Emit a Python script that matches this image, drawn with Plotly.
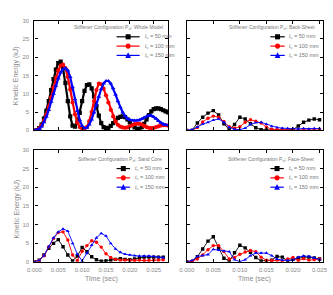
import numpy as np
import plotly.graph_objects as go

# ---------------- data ----------------
# Whole Model (dense sampling, 0.0005 s)
t_whole = np.round(np.arange(0, 0.02801, 0.0005), 4)
whole_50 = [0, 0.1, 0.6, 1.6, 3.2, 5.3, 8.0, 11.0, 14.0, 16.6, 18.4, 18.8, 17.0, 13.0, 8.0, 3.8, 1.3, 1.0, 2.2, 4.8,
            8.0, 10.8, 12.4, 12.6, 11.5, 9.3, 6.6, 4.0, 2.0, 0.9, 0.6, 0.7, 1.2, 2.0, 2.8, 3.4, 3.7, 3.8, 3.6, 3.0,
            2.2, 1.4, 0.8, 0.4, 0.4, 0.9, 1.8, 3.0, 4.2, 5.2, 5.8, 6.0, 6.0, 5.8, 5.5, 5.2, 4.9]
whole_100 = [0, 0.1, 0.5, 1.3, 2.6, 4.3, 6.5, 9.0, 11.7, 14.3, 16.4, 17.7, 18.0, 17.0, 14.6, 11.2, 7.6, 4.4, 2.1, 0.9,
             0.5, 0.5, 0.9, 2.5, 5.0, 8.0, 11.0, 12.8, 12.6, 11.4, 9.6, 7.6, 5.6, 3.8, 2.4, 1.5, 1.0, 0.8, 0.7, 0.8,
             1.1, 1.4, 1.7, 1.8, 1.8, 1.6, 1.2, 0.9, 0.7, 0.6, 0.7, 0.9, 1.1, 1.3, 1.4, 1.4, 1.3]
whole_150 = [0, 0.1, 0.4, 1.1, 2.2, 3.7, 5.6, 7.8, 10.0, 12.2, 14.2, 15.8, 16.7, 17.0, 16.4, 14.6, 11.8, 8.5, 5.3, 2.8,
             1.2, 0.6, 0.7, 1.6, 3.0, 4.9, 7.0, 9.2, 11.3, 12.8, 13.5, 13.5, 12.8, 11.5, 9.8, 8.0, 6.3, 4.9, 3.9, 3.2,
             2.9, 2.7, 2.7, 2.7, 2.8, 3.1, 3.5, 3.8, 4.0, 4.0, 3.7, 3.2, 2.6, 2.1, 1.7, 1.5, 1.4]

# Back-Sheet (0.001 s)
t_back = np.round(np.arange(0, 0.02501, 0.001), 3)
back_50 = [0, 0, 2.0, 3.6, 4.7, 5.4, 4.2, 1.8, 0.2, 1.6, 3.6, 3.1, 1.8, 0.7, 0.2, 0.1, 0.1, 0.0, 0.1, 0.1,
           0.2, 1.2, 2.2, 2.8, 3.1, 2.9]
back_100 = [0, 0, 0.8, 2.3, 3.3, 3.9, 3.6, 2.4, 1.0, 0.6, 1.0, 2.2, 2.9, 2.5, 2.0, 0.9, 0.3, 0.2, 0.1, 0.1,
            0.1, 0.1, 0.1, 0.1, 0.1, 0.1]
back_150 = [0, 0.2, 0.9, 1.7, 2.2, 2.8, 3.1, 2.2, 0.8, 0.3, 0.2, 0.6, 1.6, 2.1, 2.2, 1.7, 1.1, 0.8, 0.6, 0.5,
            0.5, 0.4, 0.5, 0.4, 0.5, 0.5]

# Sand Core (0.001 s)
t_sand = np.round(np.arange(0, 0.02701, 0.001), 3)
sand_50 = [0, 0.4, 1.8, 3.6, 4.9, 5.9, 4.0, 1.8, 0.2, 1.5, 3.8, 2.7, 1.3, 0.5, 0.1, 0.2, 0.4, 0.6, 0.8, 0.6,
           0.5, 0.7, 1.0, 1.2, 1.2, 1.2, 1.2, 1.2]
sand_100 = [0, 0.3, 1.6, 4.0, 6.2, 7.8, 8.0, 5.8, 1.8, 0.3, 2.8, 4.3, 5.6, 5.2, 3.9, 2.1, 1.1, 0.6, 0.4, 0.4,
            0.4, 0.3, 0.4, 0.3, 0.3, 0.4, 0.4, 0.5]
sand_150 = [0, 0.3, 1.6, 4.0, 6.4, 8.0, 8.8, 8.2, 4.9, 2.0, 0.2, 2.2, 4.4, 6.4, 7.6, 6.9, 4.9, 3.4, 2.5, 2.0,
            1.8, 1.6, 1.5, 1.5, 1.5, 1.4, 1.2, 1.1]

# Face-Sheet (0.001 s)
t_face = np.round(np.arange(0, 0.02501, 0.001), 3)
face_50 = [0, 0, 1.3, 3.4, 5.5, 6.7, 3.6, 0.9, 0.2, 2.4, 4.4, 3.7, 2.5, 1.1, 0.2, 0.2, 0.4, 1.4, 1.2, 0.2,
           0.6, 1.0, 1.2, 1.2, 1.0, 0.7]
face_100 = [0, 0.1, 0.7, 1.8, 3.2, 4.3, 4.3, 2.7, 0.7, 1.1, 2.0, 2.6, 3.0, 2.7, 1.2, 0.4, 0.3, 0.4, 0.2, 0.7,
            1.1, 0.3, 0.8, 0.4, 0.5, 0.7]
face_150 = [0, 0.3, 1.4, 1.6, 1.9, 3.3, 3.1, 2.9, 2.7, 0.5, 0.0, 0.5, 1.6, 2.3, 2.3, 2.3, 1.6, 0.7, 0.4, 0.3,
            0.5, 1.2, 1.5, 1.4, 1.0, 0.6]

series_names = ["<i>t</i><sub>s</sub> = 50 mm", "<i>t</i><sub>s</sub> = 100 mm", "<i>t</i><sub>s</sub> = 150 mm"]
panel_titles = ["Stiffener Configuration P<sub>sf</sub>: Whole Model",
                "Stiffener Configuration P<sub>sf</sub>: Back-Sheet",
                "Stiffener Configuration P<sub>sf</sub>: Sand Core",
                "Stiffener Configuration P<sub>sf</sub>: Face-Sheet"]
x_ticks = [0, 0.005, 0.010, 0.015, 0.020, 0.025]
y_ticks = [0, 5, 10, 15, 20, 25, 30]

colors = ["#000000", "#ff0000", "#0000ff"]
symbols = ["square", "circle", "triangle-up"]

W, H = 333, 295
FONT = "Liberation Sans, Arial, sans-serif"
GREY = "#8a8a8a"


def px(x):
    return x / W


def py(y):
    return 1 - y / H


fig = go.Figure()

panels = [
    (t_whole, [whole_50, whole_100, whole_150], "x", "y", True),
    (t_back, [back_50, back_100, back_150], "x2", "y2", False),
    (t_sand, [sand_50, sand_100, sand_150], "x3", "y3", False),
    (t_face, [face_50, face_100, face_150], "x4", "y4", False),
]
for t, ser, xa, ya, dense in panels:
    for i, vals in enumerate(ser):
        fig.add_trace(go.Scatter(
            x=t, y=vals, xaxis=xa, yaxis=ya, mode="lines+markers",
            name=series_names[i], showlegend=False,
            line=dict(color=colors[i], width=2.2 if dense else 0.9),
            marker=dict(symbol=symbols[i], color=colors[i], size=4.2 if dense else 3.4,
                        line=dict(width=0)),
        ))

# geometry (pixels)
L_x = (27.5, 166.5)
R_x = (186, 327.5)
T_y = (18, 130)
B_y = (150, 264)

common_axis = dict(showline=True, linecolor="black", linewidth=1.2, mirror="ticks",
                   ticks="inside", ticklen=3, tickwidth=1, tickcolor="black",
                   showgrid=False, zeroline=False,
                   tickfont=dict(family=FONT, size=6, color=GREY))

def xax(dom, rng, anchor, labels):
    d = dict(common_axis)
    d.update(domain=[px(dom[0]), px(dom[1])], range=rng, anchor=anchor,
             tickvals=x_ticks, ticktext=[f"{v:.3f}" for v in x_ticks],
             showticklabels=labels, ticklabelstandoff=2)
    return d

def yax(dom, anchor, labels):
    d = dict(common_axis)
    d.update(domain=[py(dom[1]), py(dom[0])], range=[0, 30], anchor=anchor,
             tickvals=y_ticks, showticklabels=labels, ticklabelstandoff=3)
    return d

fig.update_layout(
    width=W, height=H, margin=dict(l=0, r=0, t=0, b=0),
    paper_bgcolor="white", plot_bgcolor="white",
    font=dict(family=FONT, color=GREY),
    xaxis=xax(L_x, [0, 0.028], "y", False),
    yaxis=yax(T_y, "x", True),
    xaxis2=xax(R_x, [0, 0.0256], "y2", False),
    yaxis2=yax(T_y, "x2", False),
    xaxis3=xax(L_x, [0, 0.028], "y3", True),
    yaxis3=yax(B_y, "x3", True),
    xaxis4=xax(R_x, [0, 0.0256], "y4", True),
    yaxis4=yax(B_y, "x4", False),
)

shapes = []
annotations = []

# axis titles
for yc in [(T_y[0] + T_y[1]) / 2, (B_y[0] + B_y[1]) / 2 + 3]:
    annotations.append(dict(text="Kinetic Energy (kJ)", x=px(9), y=py(yc), xref="paper", yref="paper",
                            xanchor="center", yanchor="middle",
                            showarrow=False, textangle=-90, font=dict(family=FONT, size=7, color=GREY)))
for xc in [(L_x[0] + L_x[1]) / 2, (R_x[0] + R_x[1]) / 2]:
    annotations.append(dict(text="Time (sec)", x=px(xc), y=py(282), xref="paper", yref="paper",
                            xanchor="center", yanchor="middle",
                            showarrow=False, font=dict(family=FONT, size=7, color=GREY)))

# hand-made legends: (title right x, title y, row ys, line x0, line x1, text x)
legends = [
    (163, 25, [34.5, 44, 53.5], 113, 137, 140),
    (322, 25.5, [34.5, 44, 53.5], 273, 288, 290),
    (162, 159.5, [169, 178.5, 188], 113, 127, 130),
    (321, 159.5, [169, 178.5, 188], 273, 287, 290),
]
for k, (tx, ty, rows, lx0, lx1, txt_x) in enumerate(legends):
    annotations.append(dict(text=panel_titles[k], x=px(tx), y=py(ty), xref="paper", yref="paper",
                            xanchor="right", yanchor="middle", showarrow=False,
                            font=dict(family=FONT, size=5, color="#777777")))
    for i, ry in enumerate(rows):
        shapes.append(dict(type="line", xref="paper", yref="paper",
                           x0=px(lx0), x1=px(lx1), y0=py(ry), y1=py(ry),
                           line=dict(color=colors[i], width=1.2)))
        mx = (lx0 + lx1) / 2
        r = 2.6
        if symbols[i] == "square":
            shapes.append(dict(type="rect", xref="paper", yref="paper",
                               x0=px(mx - r), x1=px(mx + r), y0=py(ry + r), y1=py(ry - r),
                               fillcolor=colors[i], line=dict(width=0)))
        elif symbols[i] == "circle":
            shapes.append(dict(type="circle", xref="paper", yref="paper",
                               x0=px(mx - r), x1=px(mx + r), y0=py(ry + r), y1=py(ry - r),
                               fillcolor=colors[i], line=dict(width=0)))
        else:
            path = (f"M {px(mx - r - 0.4)} {py(ry + r)} L {px(mx + r + 0.4)} {py(ry + r)} "
                    f"L {px(mx)} {py(ry - r - 0.6)} Z")
            shapes.append(dict(type="path", xref="paper", yref="paper", path=path,
                               fillcolor=colors[i], line=dict(width=0)))
        annotations.append(dict(text=series_names[i], x=px(txt_x), y=py(ry), xref="paper", yref="paper",
                                xanchor="left", yanchor="middle", showarrow=False,
                                font=dict(family=FONT, size=5.5, color="#777777")))

fig.update_layout(shapes=shapes, annotations=annotations)
fig.write_html("out.html")
